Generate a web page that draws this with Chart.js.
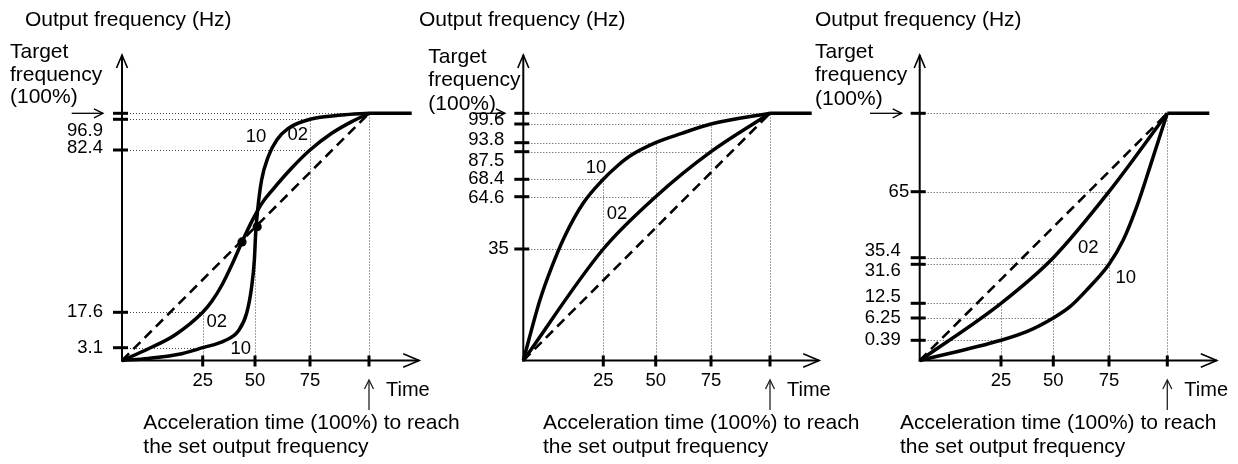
<!DOCTYPE html>
<html>
<head>
<meta charset="utf-8">
<script src="https://cdn.jsdelivr.net/npm/chart.js@4/dist/chart.umd.min.js"></script>
<style>
html,body{margin:0;padding:0;background:#fff;}
#wrap{position:relative;width:1238px;height:464px;overflow:hidden;}
#wrap canvas{position:absolute;left:0;top:0;}
</style>
</head>
<body>
<div id="wrap">
<canvas id="c1" width="1238" height="464"></canvas>
<canvas id="c2" width="1238" height="464"></canvas>
<canvas id="c3" width="1238" height="464"></canvas>
</div>
<script>
// ---------------- DATA ----------------
const TIME_TICKS = [25, 50, 75, 100];
const TIME_LABELS = ['25', '50', '75', ''];
const TIME_END = 120;            // hold segment after 100 %
const LINEAR_T = [0, 100];       // dashed linear acceleration
const LINEAR_F = [0, 100];
const HOLD_T = [100, TIME_END];
const HOLD_F = [100, 100];

// Panel 1 : S-curve
const P1_FREQ_TICKS = [3.1, 17.6, 82.4, 96.9, 100];
const P1_FREQ_LABELS = ['3.1', '17.6', '82.4', '96.9', ''];
const P1_T_10 = [0, 8.1, 18.5, 25, 35.7, 42.0, 46.0, 48.4, 49.7, 50.3, 51.2, 53.0, 56.0, 59.9, 65.1, 75, 88.4, 100];
const P1_F_10 = [0, 0.51, 1.65, 3.1, 6.05, 9.94, 17.2, 27.8, 38.5, 49.1, 58.4, 70.4, 79.7, 87.1, 92.6, 96.9, 99.1, 100];
const P1_T_02 = [0, 8.05, 16.4, 25, 29.45, 34.2, 39.0, 43.8, 48.6, 53.2, 57.7, 66.7, 75, 84.2, 92.7, 100];
const P1_F_02 = [0, 2.79, 8.3, 17.6, 22.1, 28.5, 36.7, 45.7, 54.1, 61.2, 66.2, 75.2, 82.4, 90.3, 95.8, 100];
const P1_DOT_T = [43.8, 51.0];
const P1_DOT_F = [45.7, 51.8];
const P1_H_GUIDES = [[100, 100], [75, 96.9], [75, 82.4], [25, 17.6], [25, 3.1]];
const P1_V_GUIDES = [[100, 100], [75, 96.9], [50, 50], [25, 17.6]];
const P1_CURVE_TAGS = [['10', 50.5, 88.7], ['02', 69.4, 89.5], ['02', 31.7, 13.7], ['10', 43.2, 2.9]];

// Panel 2 : fast start
const P2_FREQ_TICKS = [35, 64.6, 68.4, 87.5, 93.8, 99.6, 100];
const P2_FREQ_LABELS = ['35', '64.6', '68.4', '87.5', '93.8', '99.6', ''];
const P2_T_10 = [0, 5.2, 8.9, 13.0, 18.75, 25, 32.2, 37.7, 50, 61.8, 75, 100];
const P2_F_10 = [0, 19.0, 29.4, 42.4, 61.0, 68.4, 78.3, 84.5, 93.8, 96.7, 99.6, 100];
const P2_T_02 = [0, 25, 50, 75, 100];
const P2_F_02 = [0, 35, 64.6, 87.5, 100];
const P2_H_GUIDES = [[100, 100], [75, 99.6], [50, 93.8], [75, 87.5], [25, 68.4], [50, 64.6], [25, 35]];
const P2_V_GUIDES = [[100, 100], [75, 99.6], [50, 93.8], [25, 68.4]];
const P2_CURVE_TAGS = [['10', 22.7, 76.0], ['02', 31.5, 54.8]];

// Panel 3 : slow start
const P3_FREQ_TICKS = [0.39, 6.25, 12.5, 31.6, 35.4, 65, 100];
const P3_FREQ_LABELS = ['0.39', '6.25', '12.5', '31.6', '35.4', '65', ''];
const P3_T_10 = [0, 25, 37.3, 50, 57.5, 65, 75, 81.1, 86.9, 92.6, 97.2, 100];
const P3_F_10 = [0, 0.39, 2.65, 6.25, 11.05, 19.0, 31.6, 43.3, 58.3, 76.2, 91.1, 100];
const P3_T_02 = [0, 25, 50, 75, 100];
const P3_F_02 = [0, 12.5, 35.4, 65, 100];
const P3_H_GUIDES = [[100, 100], [75, 65], [50, 35.4], [75, 31.6], [25, 12.5], [50, 6.25], [25, 0.39]];
const P3_V_GUIDES = [[100, 100], [75, 65], [50, 35.4], [25, 12.5]];
const P3_CURVE_TAGS = [['02', 65.7, 39.6], ['10', 82.2, 24.7]];

// ---------------- LAYOUT / STYLE ----------------
const FONT = '"Liberation Sans", Arial, Helvetica, sans-serif';
const AXIS_Y = 360.5, TOP_Y = 113.3;
const PANELS = [
  { canvas: 'c1', axisX: 122, right: 411.7,
    xOff: [0, 80.7, 133, 188, 247, 289.7],
    yOff: [0, 12.8, 48.2, 210.5, 241.2, 247.2],
    labelNudge: [[0, 0], [0, 0], [0, -2], [0, 12], [0, 0]],
    ticks: P1_FREQ_TICKS, labels: P1_FREQ_LABELS,
    curves: [[P1_T_10, P1_F_10], [P1_T_02, P1_F_02]], dots: [P1_DOT_T, P1_DOT_F],
    hG: P1_H_GUIDES, vG: P1_V_GUIDES, tags: P1_CURVE_TAGS,
    titleX: 25, targetX: 10, targetY: [58, 80.5, 102.5], arrowX: [71.7, 103], accX: 143.3 },
  { canvas: 'c2', axisX: 523.3, right: 811.7,
    xOff: [0, 80, 132.4, 187.7, 246.7, 288.4],
    yOff: [0, 111.5, 163.8, 181.2, 208.8, 217.8, 236.5, 247.2],
    labelNudge: [[4.5, 0], [0, 1], [0, 0], [0, 9], [0, -3], [0, -4], [0, 0]],
    ticks: P2_FREQ_TICKS, labels: P2_FREQ_LABELS,
    curves: [[P2_T_10, P2_F_10], [P2_T_02, P2_F_02]], dots: null,
    hG: P2_H_GUIDES, vG: P2_V_GUIDES, tags: P2_CURVE_TAGS,
    titleX: 419, targetX: 428.3, targetY: [63, 86, 110], arrowX: [473, 505], accX: 543 },
  { canvas: 'c3', axisX: 919.7, right: 1209.3,
    xOff: [0, 81.3, 133.6, 189.3, 247.6, 289.6],
    yOff: [0, 20.2, 42.5, 57.2, 96.2, 102.8, 168.8, 247.2],
    labelNudge: [[0, 0], [0, 0], [0, -6], [0, 7], [0, -7], [8.5, 0], [0, 0]],
    ticks: P3_FREQ_TICKS, labels: P3_FREQ_LABELS,
    curves: [[P3_T_10, P3_F_10], [P3_T_02, P3_F_02]], dots: null,
    hG: P3_H_GUIDES, vG: P3_V_GUIDES, tags: P3_CURVE_TAGS,
    titleX: 815, targetX: 815, targetY: [57.5, 81, 104.5], arrowX: [870, 901.7], accX: 900 }
];

// ---------------- PIECEWISE SCALE (schematic, non-uniform axis) ----------------
class PiecewiseScale extends Chart.LinearScale {
  static id = 'piecewise';
  static defaults = {};
  _stops() { return this.options.stops; }
  _dec(v) {
    const s = this._stops(), tot = s[s.length - 1][1];
    let a, b;
    if (v <= s[0][0]) { a = s[0]; b = s[1]; }
    else {
      let i = 1;
      while (i < s.length - 1 && v > s[i][0]) i++;
      a = s[i - 1]; b = s[i];
    }
    return (a[1] + (v - a[0]) / (b[0] - a[0]) * (b[1] - a[1])) / tot;
  }
  getPixelForValue(value) {
    if (value === null || value === undefined || isNaN(value)) return NaN;
    return this.getPixelForDecimal(this._dec(value));
  }
  getValueForPixel(pixel) {
    const s = this._stops(), tot = s[s.length - 1][1];
    const d = this.getDecimalForPixel(pixel) * tot;
    let i = 1;
    while (i < s.length - 1 && d > s[i][1]) i++;
    const a = s[i - 1], b = s[i];
    return a[0] + (d - a[1]) / (b[1] - a[1]) * (b[0] - a[0]);
  }
  _computeLabelItems(chartArea) {
    const items = super._computeLabelItems(chartArea);
    const nudge = this.options.labelNudge;
    if (nudge) {
      items.forEach((it, i) => {
        const n = nudge[i];
        if (n && it.options && it.options.translation) {
          const tr = it.options.translation;
          it.options.translation = [tr[0] + n[0], tr[1] + n[1]];
        }
      });
    }
    return items;
  }
}
Chart.register(PiecewiseScale);

function pts(ts, fs) { return ts.map((t, i) => ({ x: t, y: fs[i] })); }

function arrowHead(ctx, x, y, dx, dy, len, half) {
  const px = -dy, py = dx;
  ctx.beginPath();
  ctx.moveTo(x - dx * len + px * half, y - dy * len + py * half);
  ctx.lineTo(x, y);
  ctx.lineTo(x - dx * len - px * half, y - dy * len - py * half);
  ctx.stroke();
}

function decor(P) {
  return {
    id: 'decor_' + P.canvas,
    beforeDatasetsDraw(chart) {
      const ctx = chart.ctx, xs = chart.scales.x, ys = chart.scales.y;
      const ox = xs.getPixelForValue(0), oy = ys.getPixelForValue(0);
      ctx.save();
      ctx.strokeStyle = '#444';
      ctx.lineWidth = 1;
      ctx.setLineDash([1, 2]);
      P.hG.forEach(([t, f]) => {
        const y = Math.round(ys.getPixelForValue(f)) + 0.5;
        ctx.beginPath(); ctx.moveTo(ox + 2, y); ctx.lineTo(xs.getPixelForValue(t), y); ctx.stroke();
      });
      P.vG.forEach(([t, f]) => {
        const x = Math.round(xs.getPixelForValue(t)) + 0.5;
        ctx.beginPath(); ctx.moveTo(x, oy - 2); ctx.lineTo(x, ys.getPixelForValue(f)); ctx.stroke();
      });
      ctx.restore();
    },
    afterDatasetsDraw(chart) {
      const ctx = chart.ctx, xs = chart.scales.x, ys = chart.scales.y;
      const ox = xs.getPixelForValue(0), oy = ys.getPixelForValue(0);
      const xEnd = chart.chartArea.right + 7.5;
      ctx.save();
      ctx.strokeStyle = '#000';
      ctx.lineCap = 'butt';
      ctx.lineWidth = 2;
      ctx.beginPath(); ctx.moveTo(ox, oy + 1); ctx.lineTo(ox, 55); ctx.stroke();
      ctx.beginPath(); ctx.moveTo(ox - 1, oy); ctx.lineTo(xEnd, oy); ctx.stroke();
      ctx.lineWidth = 1.6;
      arrowHead(ctx, ox, 55, 0, -1, 13, 5.5);
      arrowHead(ctx, xEnd, oy, 1, 0, 16, 6.7);
      ctx.lineWidth = 3;
      P.ticks.forEach(v => {
        const y = ys.getPixelForValue(v);
        ctx.beginPath(); ctx.moveTo(ox - 9, y); ctx.lineTo(ox + 6, y); ctx.stroke();
      });
      TIME_TICKS.forEach(v => {
        const x = xs.getPixelForValue(v);
        ctx.beginPath(); ctx.moveTo(x, oy - 5); ctx.lineTo(x, oy + 6); ctx.stroke();
      });
      ctx.restore();
    },
    afterDraw(chart) {
      const ctx = chart.ctx, xs = chart.scales.x, ys = chart.scales.y;
      ctx.save();
      ctx.fillStyle = '#000';
      ctx.strokeStyle = '#000';
      ctx.textAlign = 'left';
      ctx.textBaseline = 'alphabetic';
      ctx.font = '21px ' + FONT;
      ctx.fillText('Output frequency (Hz)', P.titleX, 26);
      ctx.fillText('Target', P.targetX, P.targetY[0]);
      ctx.fillText('frequency', P.targetX, P.targetY[1]);
      ctx.fillText('(100%)', P.targetX, P.targetY[2]);
      ctx.fillText('Acceleration time (100%) to reach', P.accX, 429);
      ctx.fillText('the set output frequency', P.accX, 453);
      const y100 = ys.getPixelForValue(100);
      ctx.lineWidth = 1.3;
      ctx.beginPath(); ctx.moveTo(P.arrowX[0], y100); ctx.lineTo(P.arrowX[1], y100); ctx.stroke();
      arrowHead(ctx, P.arrowX[1], y100, 1, 0, 9, 4.5);
      const x100 = xs.getPixelForValue(100);
      ctx.strokeStyle = '#222';
      ctx.beginPath(); ctx.moveTo(x100, 410); ctx.lineTo(x100, 380); ctx.stroke();
      arrowHead(ctx, x100, 380, 0, -1, 9, 4.5);
      ctx.font = '20px ' + FONT;
      ctx.fillText('Time', x100 + 17, 396);
      ctx.font = '18.5px ' + FONT;
      ctx.textAlign = 'center';
      ctx.textBaseline = 'middle';
      P.tags.forEach(([txt, t, f]) => ctx.fillText(txt, xs.getPixelForValue(t), ys.getPixelForValue(f)));
      ctx.restore();
    }
  };
}

PANELS.forEach(P => {
  const datasets = [
    { data: pts(LINEAR_T, LINEAR_F), borderColor: '#000', borderWidth: 2.6, borderDash: [10, 6], pointRadius: 0, tension: 0, clip: false },
    { data: pts(P.curves[0][0], P.curves[0][1]), borderColor: '#000', borderWidth: 3.5, pointRadius: 0, cubicInterpolationMode: 'monotone', clip: false },
    { data: pts(P.curves[1][0], P.curves[1][1]), borderColor: '#000', borderWidth: 3.5, pointRadius: 0, cubicInterpolationMode: 'monotone', clip: false },
    { data: pts(HOLD_T, HOLD_F), borderColor: '#000', borderWidth: 3.5, pointRadius: 0, tension: 0, clip: false }
  ];
  if (P.dots) {
    datasets.push({ data: pts(P.dots[0], P.dots[1]), showLine: false, pointRadius: 4.6, pointBorderWidth: 0,
      pointBackgroundColor: '#000', pointBorderColor: '#000', clip: false });
  }
  const xStops = [0, ...TIME_TICKS, TIME_END].map((v, i) => [v, P.xOff[i]]);
  const yStops = [0, ...P.ticks].map((v, i) => [v, P.yOff[i]]);
  new Chart(document.getElementById(P.canvas), {
    type: 'line',
    data: { datasets },
    options: {
      responsive: false,
      animation: false,
      events: [],
      layout: { padding: { left: 0, top: TOP_Y, right: 1238 - P.right, bottom: 464 - AXIS_Y - 40 } },
      plugins: { legend: { display: false }, tooltip: { enabled: false }, title: { display: false } },
      scales: {
        x: {
          type: 'piecewise', position: 'bottom', min: 0, max: TIME_END, stops: xStops,
          grid: { display: false, drawTicks: false }, border: { display: false },
          afterBuildTicks: s => { s.ticks = TIME_TICKS.map(v => ({ value: v })); },
          afterFit: s => { s.height = 40; s.paddingLeft = 0; s.paddingRight = 0; },
          ticks: { autoSkip: false, maxRotation: 0, minRotation: 0, padding: 9, color: '#000',
            font: { family: FONT, size: 18.5 },
            callback: v => TIME_LABELS[TIME_TICKS.indexOf(v)] }
        },
        y: {
          type: 'piecewise', position: 'left', min: 0, max: 100, stops: yStops, labelNudge: P.labelNudge,
          grid: { display: false, drawTicks: false }, border: { display: false },
          afterBuildTicks: s => { s.ticks = P.ticks.map(v => ({ value: v })); },
          afterFit: s => { s.width = P.axisX; s.paddingTop = 0; s.paddingBottom = 0; },
          ticks: { autoSkip: false, padding: 19, color: '#000',
            font: { family: FONT, size: 18.5 },
            callback: v => P.labels[P.ticks.indexOf(v)]
          }
        }
      }
    },
    plugins: [decor(P)]
  });
});
</script>
</body>
</html>
